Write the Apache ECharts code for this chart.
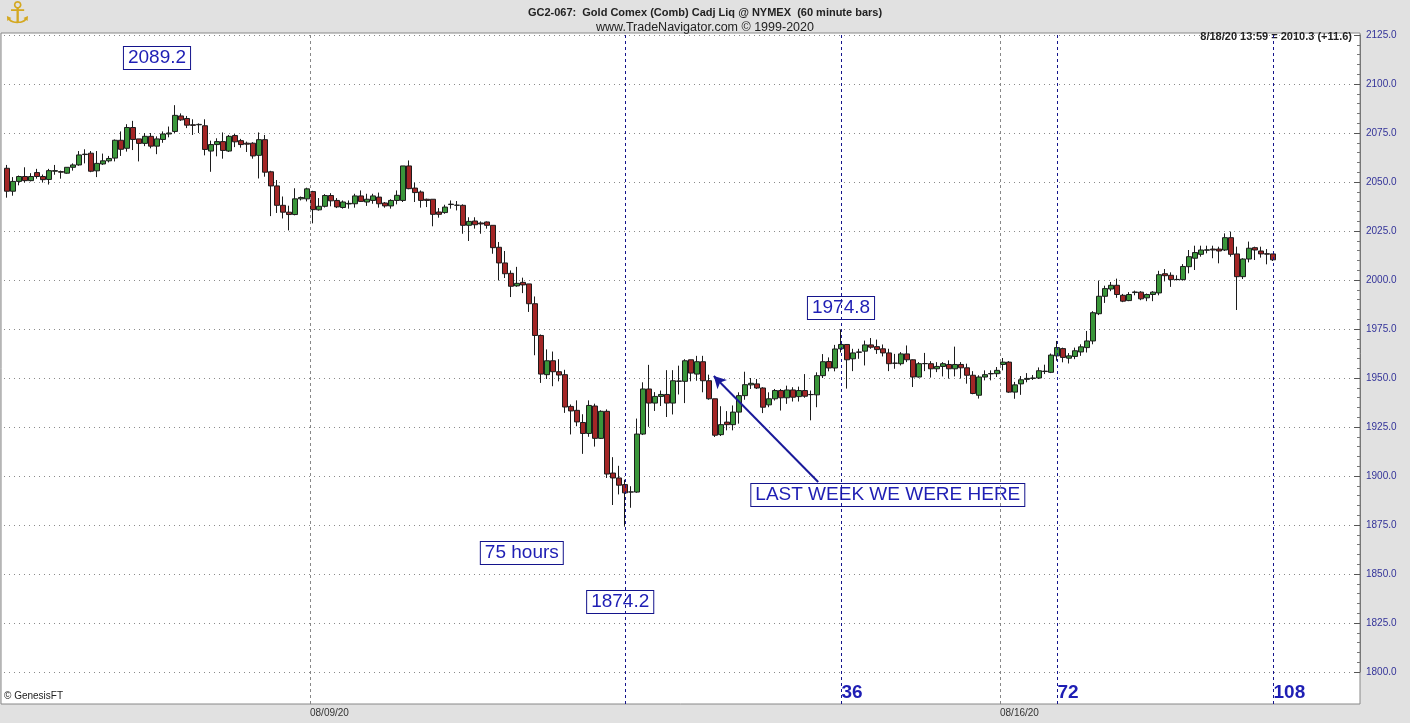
<!DOCTYPE html>
<html><head><meta charset="utf-8">
<script src="https://cdn.jsdelivr.net/npm/echarts@6/dist/echarts.min.js"></script>
<style>html,body{margin:0;padding:0;background:#e1e1e1;}#c{width:1410px;height:723px;}</style>
</head><body><div id="c"></div>
<script>
// ---- data (60 minute bars) ----
const barOpen = [2057,2045.3,2050.3,2052.8,2050.7,2054.8,2052.8,2051.3,2055.5,2055.3,2054.5,2057.5,2058.7,2064,2064.7,2055.7,2059.2,2060.8,2062.2,2071.3,2067.2,2077.8,2072,2069.7,2073.3,2068.3,2071.7,2074.5,2075.8,2083.7,2082.4,2079.2,2079.2,2078.7,2065.8,2069.1,2070.6,2065.8,2073.7,2071.1,2069.8,2069.8,2063.6,2071.6,2055.2,2048,2038.1,2034.6,2033.4,2041.4,2041.4,2045.1,2035.8,2037.6,2043.1,2040.6,2037,2038.8,2038.9,2042.9,2039.8,2040.6,2042.3,2039.3,2037.8,2040.6,2040.6,2058.2,2046.9,2044.9,2041.2,2041.2,2034.7,2034.4,2038.5,2038.1,2038.1,2027.9,2030.1,2029.1,2029.6,2027.9,2016.7,2008.7,2003.4,1997,1998.8,1998,1987.9,1971.7,1951.7,1958.8,1953.2,1951.7,1935.5,1933.5,1927.3,1921.7,1935.7,1919.2,1933,1901.5,1899,1895.6,1891.8,1891.8,1921.4,1944.4,1937.2,1940.6,1941.6,1937.2,1948.3,1948.3,1959.3,1952,1958.3,1948.6,1939.4,1921.1,1927.5,1926.2,1932.6,1941,1946.5,1947,1944.9,1936.3,1939.4,1943.6,1939.9,1943.9,1940.5,1943.6,1941.6,1941.4,1951.2,1958.4,1955.1,1964.9,1967.1,1959.8,1963.1,1963.7,1966.9,1966,1964.9,1962.8,1957.6,1957.3,1962.3,1959.3,1950.5,1957.3,1957.3,1954.7,1955.9,1956.9,1954.7,1956.9,1955.2,1951.4,1941.2,1950.5,1952.1,1952.2,1956.9,1958.1,1942.8,1947,1949.3,1949.8,1950,1953.3,1952.9,1961.3,1965,1960.1,1961,1963.3,1965.5,1968.9,1982.8,1991.7,1995.4,1997.3,1992.2,1989.5,1993.6,1993.8,1990.9,1992.6,1993.4,2003.2,2002.4,2000.2,2000.2,2006.8,2011.1,2013.1,2015.2,2015.8,2015.8,2015.3,2021.6,2013.3,2001.7,2010.7,2016.5,2014.8,2013.4,2013.3];
const barHigh = [2058.7,2052.5,2053.3,2057.5,2054.5,2056.7,2053.8,2056.7,2058.7,2055.8,2057.5,2059.5,2065.8,2066.7,2065.8,2065.8,2064.5,2063.3,2071.7,2075.8,2079.5,2081.2,2072,2075,2075,2073.3,2075.8,2078.3,2089.2,2085,2083.7,2082,2079.9,2082,2071.1,2072.3,2075.3,2074,2074.5,2072,2070.6,2070.3,2075.3,2074,2055.7,2051,2042.6,2037.9,2046.8,2042.6,2047.1,2045.5,2041.8,2043.8,2044.3,2041.8,2040.6,2040.6,2044,2045.7,2044,2044,2044.6,2039.8,2041.2,2045.7,2058.2,2061,2049.7,2045.7,2041.5,2041.2,2036.7,2038.4,2040.6,2040.3,2038.6,2032,2032,2029.9,2029.9,2027.9,2019.4,2014.8,2004.9,2006.7,2001.2,1998,1991.6,1972.2,1964.6,1963.5,1959.6,1954.2,1936.5,1938.6,1931.5,1938.6,1936.9,1933.5,1934,1909.6,1905.2,1898.1,1894.8,1929.3,1947.8,1956.7,1942.8,1943.6,1954,1954,1956.3,1959.6,1959.3,1961.3,1961.3,1951.7,1939.4,1935.6,1933.1,1936,1942.7,1953.2,1950,1949.5,1945.3,1942.7,1944.4,1944.4,1946.1,1945.3,1945.6,1952,1943.6,1952.9,1962.2,1960.5,1966.9,1974.8,1967.3,1964.9,1964.9,1969.1,1970.4,1969.6,1967.1,1964.9,1962.3,1963.2,1966.6,1959.5,1958.1,1962.8,1958.6,1958.1,1958.1,1959,1966,1958.1,1957.3,1953.5,1951.4,1953.9,1953.9,1955.6,1960.2,1958.6,1948,1951,1952.5,1951.5,1955.4,1956.8,1962.5,1968.9,1965.5,1962.7,1965.5,1967.2,1974,1984.1,1999.7,1997.1,1999,2000.7,1992.9,1993.8,1994.6,1994.3,1993.1,1994.3,2004.7,2005.6,2003.9,2002.4,2008.1,2015.3,2017.5,2017.5,2017.5,2017.5,2017,2023.8,2024.7,2017,2011.1,2019.6,2017,2017,2015.8,2013.3];
const barLow = [2042,2043,2048.3,2049.7,2050.3,2051.7,2049.7,2048.7,2053.7,2051.7,2054.2,2055.8,2058.3,2059.5,2055,2052.5,2058.7,2060,2060.5,2063.3,2065.5,2066.3,2060.5,2068.3,2067.2,2064.2,2070,2072.8,2075,2081.2,2077.5,2074,2075,2063.6,2055.2,2063.1,2061.9,2065.3,2067.8,2067.5,2065.3,2061.9,2051.8,2052.7,2032.6,2034.2,2031.4,2025.3,2033,2040.6,2040.1,2028.9,2035.4,2037,2037.6,2036.7,2036.4,2036.4,2036.9,2039.8,2037.8,2038.9,2036.9,2036.9,2036.4,2038.6,2039.8,2046.3,2039.8,2036.9,2037.2,2027.4,2031.8,2033.8,2036.4,2035.5,2023.6,2019.9,2026.2,2023.6,2026.2,2013.4,1999.8,2001,1991.3,1996.5,1993.3,1983.7,1961.6,1947.5,1949.5,1945.8,1948.3,1932.2,1921.2,1925.4,1911.3,1920,1915,1918.9,1899,1885.2,1890.6,1874.2,1883.8,1891.4,1920.9,1925.1,1933.2,1935.7,1930.1,1931.4,1941.6,1937.2,1948.3,1948.6,1942.7,1938.9,1919.9,1920.4,1923.3,1923.3,1926.7,1938.9,1944.4,1944.4,1932.1,1935.1,1938.5,1933.4,1936.8,1938,1938,1939.9,1928.4,1935.1,1950,1953.4,1953.4,1963,1944.6,1953.5,1959.8,1956.4,1964.9,1962.3,1961,1953.5,1954.7,1956.4,1958.1,1945.4,1950.2,1953.5,1950.2,1953,1950.8,1949.7,1950.8,1949.7,1947.1,1941.7,1939.5,1948.8,1948.8,1950.5,1953.9,1942.4,1939.4,1941.4,1947.8,1949,1949.5,1952,1952.5,1958.8,1958,1957.4,1959.6,1961.3,1963,1967.2,1982.1,1988.3,1994.3,1990.9,1988.7,1989.2,1992.2,1989.7,1989.2,1989.2,1992.2,1999.3,1996.5,1999.8,1999.7,2003.4,2005.1,2011.9,2013.6,2011.1,2008.5,2014.8,2011.9,1984.7,2000.5,2009,2010.2,2011.4,2008,2009.7];
const barClose = [2045.3,2050.3,2052.8,2050.7,2052.8,2052.8,2051.2,2055.8,2055.8,2055,2057.5,2058.7,2063.8,2064.2,2055.5,2059.5,2060.8,2062,2071.3,2066.7,2077.8,2071.7,2069.7,2073.3,2068.3,2072,2074.5,2075,2084,2081.7,2079,2078.9,2079.4,2066.6,2069.1,2070.6,2066.1,2073.3,2070.5,2069.1,2069.3,2063.3,2071.6,2055,2048,2038.1,2034.6,2033.4,2041.4,2042.1,2046.5,2035.9,2037.6,2043.1,2040.4,2037.3,2039.8,2039.1,2042.9,2040.1,2041.2,2042.9,2038.9,2037.8,2040.6,2043.2,2058.2,2046.6,2044.6,2040.6,2040.6,2033.5,2033.5,2037.2,2038.7,2038.2,2027.9,2029.9,2028.2,2028.6,2027.9,2016.5,2008.7,2003.2,1996.8,1998.3,1997.5,1987.9,1971.7,1952,1958.8,1953.2,1951.5,1935.2,1933.2,1927.6,1921.7,1936,1919.2,1933,1901,1899,1895.3,1891.4,1891.9,1921.4,1944.4,1937.2,1940.6,1941.6,1937.2,1948.6,1948.5,1958.8,1952.5,1958.3,1948.6,1939.4,1920.8,1926.2,1926.2,1932.6,1941,1946.6,1947.3,1944.9,1935.1,1939.4,1943.6,1939.9,1943.9,1940.2,1943.6,1940.7,1941.5,1951.2,1958.3,1955.1,1964.8,1967.1,1959.3,1962.8,1963.3,1966.9,1965.7,1964.5,1962.8,1957.3,1957.5,1962.3,1959.3,1950.5,1957.3,1957.4,1954.7,1955.9,1957.3,1954.7,1956.9,1955.2,1951.4,1942.1,1950.5,1951.7,1952.3,1953.9,1958.1,1942.8,1946.5,1949.1,1949.8,1950,1953.7,1953.5,1961.7,1965.5,1960.5,1961.3,1963.9,1965.9,1968.9,1983.3,1991.7,1995.6,1997.3,1992.6,1989.2,1992.6,1993.9,1990.4,1992.6,1993.8,2002.7,2002.2,2000.2,2000.3,2006.9,2011.9,2014,2015.3,2015.4,2015.3,2014.8,2021.6,2013.1,2001.7,2010.7,2016.2,2015.3,2013.3,2013.2,2010.3];
const emptySlotsRight = 14;
const weekStarts = [{bar: 51, label: '08/09/20'}, {bar: 166, label: '08/16/20'}];
const countLines = [{bar: 103, label: ''}, {bar: 139, label: '36'}, {bar: 175, label: '72'}, {bar: 211, label: '108'}];
const callouts = [
  {bar: 25.0, price: 2113.3, text: '2089.2'},
  {bar: 139.0, price: 1985.7, text: '1974.8'},
  {bar: 85.8, price: 1860.7, text: '75 hours'},
  {bar: 102.2, price: 1835.7, text: '1874.2'},
  {bar: 146.8, price: 1890.3, text: 'LAST WEEK WE WERE HERE'}
];
const arrowFrom = {bar: 135.2, price: 1896.9};
const arrowTo = {bar: 117.8, price: 1951.0};
const lastPrice = 2010.3, lastChange = 11.6, lastTime = '8/18/20 13:59';
const priceMin = 1800, priceMax = 2125, priceStep = 25;

// ---- build ----
const nSlots = barOpen.length + emptySlotsRight;
const categories = Array.from({length: nSlots}, (_, i) => String(i));
const candles = barOpen.map((o, i) => [o, barClose[i], barLow[i], barHigh[i]]);
const BLUE = '#1e1eb4';
const NAVY = '#14148c';
const chart = echarts.init(document.getElementById('c'));
const SLOT = 6, LEFT = 4, TOP = 35, PLOT_BOTTOM = 704, PRICE_PX = 637 / (priceMax - priceMin);
const ovTop = 33;
const ovMax = priceMax + (TOP - ovTop) / PRICE_PX;
const ovMin = priceMin - (PLOT_BOTTOM - (TOP + 637)) / PRICE_PX;
const FONT = 'Liberation Sans, Arial, sans-serif';
const HIDDEN = {color: 'rgba(0,0,0,0)', opacity: 1};

chart.setOption({
  animation: false,
  backgroundColor: '#e1e1e1',
  title: {
    text: 'GC2-067:  Gold Comex (Comb) Cadj Liq @ NYMEX  (60 minute bars)',
    subtext: 'www.TradeNavigator.com © 1999-2020',
    left: 'center', top: 2, itemGap: 3,
    textStyle: {fontFamily: FONT, fontSize: 11, fontWeight: 'bold', color: '#222'},
    subtextStyle: {fontFamily: FONT, fontSize: 12.5, color: '#222'}
  },
  graphic: [
    {type: 'text', left: 4, top: 0, style: {text: '⚓', fontSize: 30, fill: '#d4a820', fontFamily: 'DejaVu Sans'}},
    {type: 'text', right: 58, top: 31, style: {text: lastTime + ' = ' + lastPrice.toFixed(1) + ' (+' + lastChange.toFixed(1) + ')', fontSize: 11, fontWeight: 'bold', fill: '#222', fontFamily: FONT}},
    {type: 'text', left: 4, top: 691, style: {text: '© GenesisFT', fontSize: 10, fill: '#222', fontFamily: FONT}}
  ],
  grid: [
    {left: LEFT, width: nSlots * SLOT, top: TOP, height: 637, show: false},
    {left: LEFT - SLOT / 2, width: nSlots * SLOT + SLOT / 2, top: ovTop, bottom: 723 - PLOT_BOTTOM, show: true, backgroundColor: '#fff', borderColor: '#888', borderWidth: 1, z: -1}
  ],
  xAxis: [
    {type: 'category', data: categories, gridIndex: 0, boundaryGap: true, show: false},
    {type: 'value', gridIndex: 1, min: -0.5, max: nSlots, axisLine: {show: false}, axisTick: {show: false}, splitLine: {show: false},
     axisLabel: {show: true, customValues: weekStarts.map(w => w.bar), formatter: v => (weekStarts.find(w => w.bar === v) || {}).label || '',
       align: 'left', margin: 4, fontSize: 10, color: '#333', fontFamily: FONT}}
  ],
  yAxis: [
    {type: 'value', gridIndex: 0, position: 'right', min: priceMin, max: priceMax, interval: priceStep,
     axisLine: {show: true, lineStyle: {color: '#777'}},
     axisTick: {show: true, inside: true, length: 6, lineStyle: {color: '#555'}},
     minorTick: {show: true, splitNumber: 5, length: 3, lineStyle: {color: '#777'}},
     axisLabel: {formatter: v => v.toFixed(1), fontSize: 10, color: '#333399', margin: 6, fontFamily: FONT},
     splitLine: {show: true, lineStyle: {color: '#8a8a8a', type: [1, 4], width: 1}}},
    {type: 'value', gridIndex: 1, min: ovMin, max: ovMax, show: false}
  ],
  series: [
    {
      type: 'candlestick', xAxisIndex: 0, yAxisIndex: 0, data: candles, barWidth: 5,
      itemStyle: {color: '#3a963a', color0: '#a32626', borderColor: '#1c1c1c', borderColor0: '#1c1c1c', borderWidth: 1},
      markLine: {
        silent: true, symbol: 'none',
        lineStyle: {opacity: 0},
        label: {show: true, position: 'end', distance: 3, formatter: lastPrice.toFixed(1), backgroundColor: '#000', color: '#fff', padding: [2, 3], fontSize: 10, fontFamily: FONT},
        data: [{yAxis: lastPrice}]
      }
    },
    {
      type: 'scatter', xAxisIndex: 1, yAxisIndex: 1, symbolSize: 1, itemStyle: HIDDEN, silent: true, z: 3,
      data: callouts.map(c => ({value: [c.bar + 0.5, c.price], name: c.text})),
      label: {show: true, position: 'inside', formatter: p => p.name, fontSize: 19, color: BLUE,
        fontFamily: FONT, backgroundColor: '#fff', borderColor: NAVY, borderWidth: 1, padding: [2, 4, 1, 4]}
    },
    {
      type: 'scatter', xAxisIndex: 1, yAxisIndex: 1, symbolSize: 1, itemStyle: HIDDEN, silent: true, z: 3,
      data: countLines.filter(c => c.label).map(c => ({value: [c.bar + 0.5, 1789.3], name: c.label})),
      label: {show: true, position: 'right', distance: 0, formatter: p => p.name, fontSize: 19, fontWeight: 'bold', color: BLUE, fontFamily: FONT}
    },
    {
      type: 'line', xAxisIndex: 1, yAxisIndex: 1, data: [], silent: true, z: 10,
      markLine: {
        silent: true, symbol: 'none', label: {show: false},
        data: weekStarts.map(w => ({xAxis: w.bar, lineStyle: {color: '#888', type: [3, 3], width: 1}}))
          .concat(countLines.map(c => ({xAxis: c.bar + 0.5, lineStyle: {color: NAVY, type: [3, 3], width: 1}})))
      }
    },
    {
      type: 'line', xAxisIndex: 1, yAxisIndex: 1, data: [], silent: true, z: 10,
      markLine: {
        silent: true, symbol: ['none', 'arrow'], symbolSize: [10, 12], label: {show: false},
        lineStyle: {color: '#1a1a9a', width: 2, type: 'solid'},
        data: [[{coord: [arrowFrom.bar + 0.5, arrowFrom.price]}, {coord: [arrowTo.bar + 0.5, arrowTo.price]}]]
      }
    }
  ]
});
</script></body></html>
